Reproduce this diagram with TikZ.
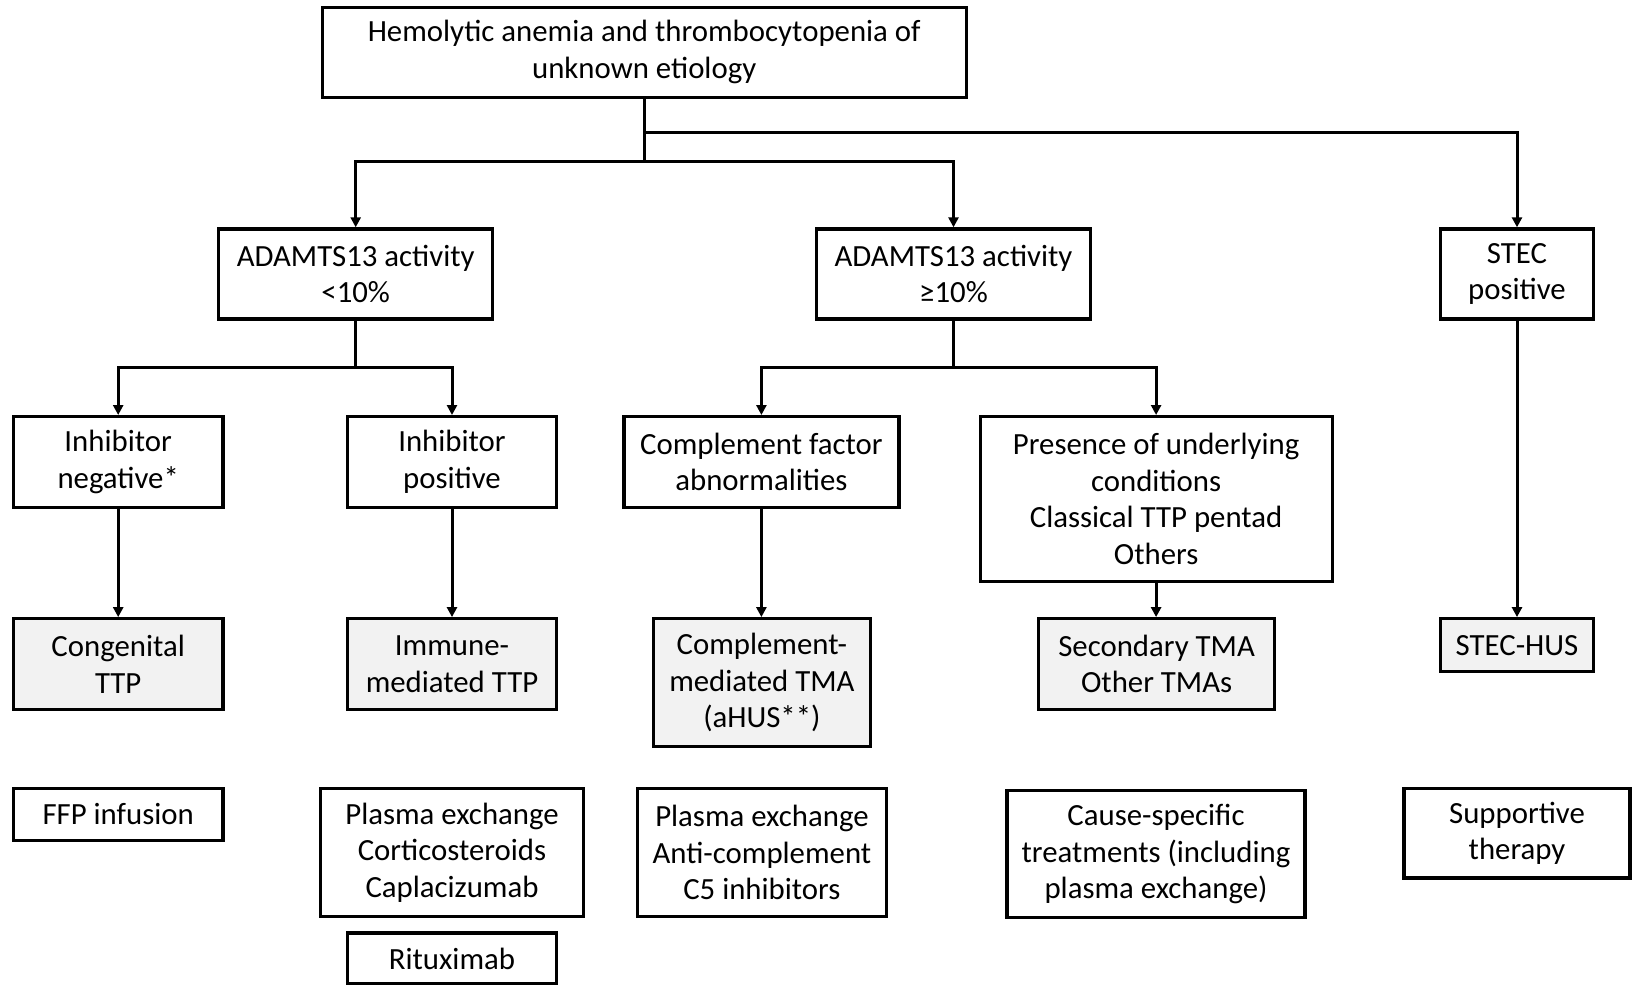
\documentclass[tikz,border=0pt]{standalone}
\usepackage{fontspec}
\setmainfont{Carlito}
\usetikzlibrary{arrows.meta}
\tikzset{
  box/.style={draw=black, line width=1.6pt, inner sep=0pt, align=center,
    font=\fontsize{15.4pt}{18.3pt}\selectfont, text=black},
  gbox/.style={box, fill=gray!10},
  line/.style={line width=1.5pt},
  arr/.style={line width=1.5pt, -{Triangle[width=5pt,length=5pt]}},
}
\begin{document}
\begin{tikzpicture}[x=0.5pt,y=-0.5pt]
\useasboundingbox (0,0) rectangle (1633,985);
% level 1
\node[box, minimum width=322pt, minimum height=45pt] (top) at (644.2,52.1) {Hemolytic anemia and thrombocytopenia of\\unknown etiology};
% level 2
\node[box, minimum width=137pt, minimum height=45pt] (a1) at (355.7,273.9) {ADAMTS13 activity\\<10\%};
\node[box, minimum width=137pt, minimum height=45pt] (a2) at (953.5,273.9) {ADAMTS13 activity\\≥10\%};
\node[box, minimum width=76.5pt, minimum height=45pt] (stec) at (1517,273.9) {STEC\\positive};
% level 3
\node[box, minimum width=104.7pt, minimum height=45.3pt] (in) at (118.2,461.9) {Inhibitor\\negative*};
\node[box, minimum width=104.2pt, minimum height=45.3pt] (ip) at (452,461.9) {Inhibitor\\positive};
\node[box, minimum width=137.5pt, minimum height=45.3pt] (cf) at (761.4,461.9) {Complement factor\\abnormalities};
\node[box, minimum width=176pt, minimum height=82.3pt] (pu) at (1156.1,498.9) {Presence of underlying\\conditions\\Classical TTP pentad\\Others};
% level 4
\node[gbox, minimum width=104.7pt, minimum height=45.3pt] (ct) at (118.2,664) {Congenital\\TTP};
\node[gbox, minimum width=104.2pt, minimum height=45.3pt] (im) at (452,664) {Immune-\\mediated TTP};
\node[gbox, minimum width=108.8pt, minimum height=64pt] (cm) at (761.9,682.7) {Complement-\\mediated TMA\\(aHUS**)};
\node[gbox, minimum width=118.2pt, minimum height=45.3pt] (st) at (1156.6,664) {Secondary TMA\\Other TMAs};
\node[gbox, minimum width=76.5pt, minimum height=26.5pt] (sh) at (1517,645.2) {STEC-HUS};
% level 5
\node[box, minimum width=104.7pt, minimum height=26pt] (ffp) at (118.2,814.5) {FFP infusion};
\node[box, minimum width=131.2pt, minimum height=64pt] (pe1) at (452,852.5) {Plasma exchange\\Corticosteroids\\Caplacizumab};
\node[box, minimum width=104.2pt, minimum height=25.5pt] (rx) at (452,958.5) {Rituximab};
\node[box, minimum width=124.5pt, minimum height=64pt] (pe2) at (761.9,852.5) {Plasma exchange\\Anti-complement\\C5 inhibitors};
\node[box, minimum width=149pt, minimum height=63.5pt] (cs) at (1156,854) {Cause-specific\\treatments (including\\plasma exchange)};
\node[box, minimum width=113pt, minimum height=44.8pt] (sup) at (1517,833.2) {Supportive\\therapy};
% connectors
\coordinate (j1) at (644.2,132.3);
\coordinate (j2) at (644.2,161.4);
\draw[line] (top.south) -- (j2);
\draw[arr] (j1) -| (stec.north);
\draw[arr] (j2) -| (a1.north);
\draw[arr] (j2) -| (a2.north);
\coordinate (j3) at (355.7,367.6);
\coordinate (j4) at (953.5,367.6);
\draw[line] (a1.south) -- (j3);
\draw[arr] (j3) -| (in.north);
\draw[arr] (j3) -| (ip.north);
\draw[line] (a2.south) -- (j4);
\draw[arr] (j4) -| (cf.north);
\draw[arr] (j4) -| (pu.north);
\draw[arr] (in.south) -- (ct.north);
\draw[arr] (ip.south) -- (im.north);
\draw[arr] (cf.south) -- (cf.south |- cm.north);
\draw[arr] (pu.south) -- (pu.south |- st.north);
\draw[arr] (stec.south) -- (sh.north);
\end{tikzpicture}
\end{document}
